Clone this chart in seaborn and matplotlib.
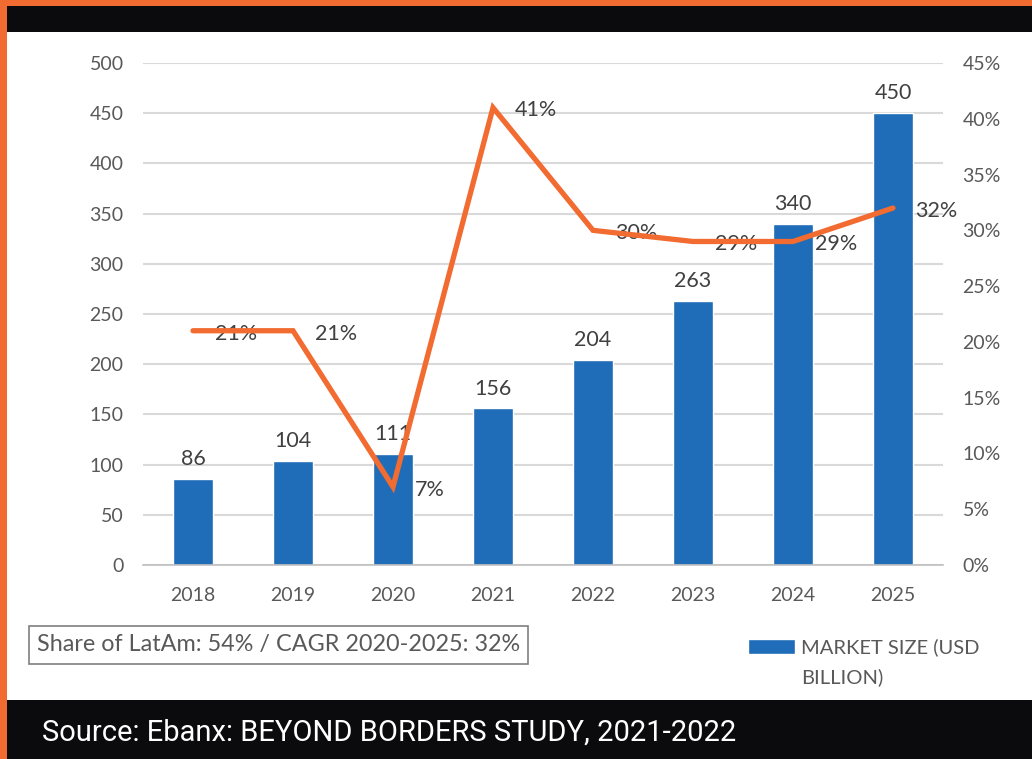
import matplotlib
matplotlib.use("Agg")
import matplotlib.pyplot as plt
import matplotlib.patches as mpatches
from matplotlib.ticker import FuncFormatter, MultipleLocator
import numpy as np
import pandas as pd
import seaborn as sns

years = ["2018", "2019", "2020", "2021", "2022", "2023", "2024", "2025"]
market_size = [86, 104, 111, 156, 204, 263, 340, 450]
growth = [0.21, 0.21, 0.07, 0.41, 0.30, 0.29, 0.29, 0.32]
growth_labels = ["21%", "21%", "7%", "41%", "30%", "29%", "29%", "32%"]
legend_label = "MARKET SIZE (USD\nBILLION)"
note_text = "Share of LatAm: 54% / CAGR 2020-2025: 32%"
source_text = "Source: Ebanx: BEYOND BORDERS STUDY, 2021-2022"

BLUE = "#1F6CB8"
ORANGE = "#F26B30"
GRAY_TXT = "#595959"
GRID = "#D9D9D9"

sns.set_theme(style="white")
plt.rcParams["font.family"] = ["Lato", "DejaVu Sans"]

W, H = 1032, 759
fig = plt.figure(figsize=(W / 100, H / 100), dpi=100)
fig.patch.set_facecolor("white")

def px(x0, y0, w, h, color, z=0):
    fig.patches.append(mpatches.Rectangle((x0 / W, 1 - (y0 + h) / H), w / W, h / H,
                                          transform=fig.transFigure, color=color,
                                          zorder=z, linewidth=0))

# frame decorations
px(0, 0, W, 6, ORANGE)
px(0, 6, W, 26, "#0B0A0D")
px(7, 700, W - 7, 59, "#0B0A0D")
px(0, 0, 7, H, ORANGE, z=1)

df = pd.DataFrame({"year": years, "size": market_size, "growth": growth})

ax = fig.add_axes([143 / W, 1 - 565 / H, 800 / W, 502 / H])
ax.set_facecolor("none")
sns.barplot(data=df, x="year", y="size", color=BLUE, width=0.4, ax=ax,
            saturation=1, label=legend_label, zorder=2)
if ax.get_legend() is not None:
    ax.get_legend().remove()
ax.set_ylim(0, 500)
ax.set_xlim(-0.5, len(years) - 0.5)
ax.yaxis.set_major_locator(MultipleLocator(50))
ax.grid(axis="y", color=GRID, linewidth=1.5, zorder=0)
ax.set_axisbelow(True)
for s in ["top", "right", "left"]:
    ax.spines[s].set_visible(False)
ax.spines["bottom"].set_color("#BFBFBF")
ax.spines["bottom"].set_linewidth(1.2)
ax.set_xlabel("")
ax.set_ylabel("")
ax.tick_params(axis="y", length=0, pad=14, labelsize=14, labelcolor=GRAY_TXT)
ax.tick_params(axis="x", length=0, pad=16, labelsize=14, labelcolor=GRAY_TXT)

for i, v in enumerate(market_size):
    ax.annotate(str(v), (i, v), xytext=(0, 7), textcoords="offset points",
                ha="center", va="bottom", fontsize=15.5, color="#404040")

ax2 = ax.twinx()
ax2.set_facecolor("none")
xi = np.arange(len(years))
sns.lineplot(x=xi, y=growth, ax=ax2, color=ORANGE, linewidth=3.8, zorder=5,
             solid_joinstyle="miter", solid_capstyle="round")
ax2.set_ylim(0, 0.45)
ax2.yaxis.set_major_locator(MultipleLocator(0.05))
ax2.yaxis.set_major_formatter(FuncFormatter(lambda v, p: f"{v * 100:.0f}%"))
for s in ["top", "right", "left", "bottom"]:
    ax2.spines[s].set_visible(False)
ax2.tick_params(axis="y", length=0, pad=14, labelsize=14, labelcolor=GRAY_TXT)
ax2.grid(False)
for i, (g, lab) in enumerate(zip(growth, growth_labels)):
    ax2.annotate(lab, (i, g), xytext=(16, -2), textcoords="offset points",
                 ha="left", va="center", fontsize=15.5, color="#404040", zorder=3)

# note box
fig.text(37 / W, 1 - 645 / H, note_text, ha="left", va="center", fontsize=16.8,
         color=GRAY_TXT,
         bbox=dict(boxstyle="square,pad=0.35", facecolor="white",
                   edgecolor="#7F7F7F", linewidth=1.2))

# legend
handles, labels = ax.get_legend_handles_labels()
leg = fig.legend(handles, labels, loc="upper left",
                 bbox_to_anchor=(730 / W, 1 - 620 / H), frameon=False,
                 handlelength=2.35, handleheight=0.8, handletextpad=0.3,
                 prop={"size": 14.5})
for t in leg.get_texts():
    t.set_color(GRAY_TXT)
    t.set_linespacing(1.8)
for h in leg.legend_handles:
    h.set_y(h.get_y() + 11)

fig.text(42 / W, 1 - 733 / H, source_text, ha="left", va="center", fontsize=21,
         color="white", family=["Roboto", "DejaVu Sans"])

fig.savefig("out.png", dpi=100, facecolor=fig.get_facecolor())
